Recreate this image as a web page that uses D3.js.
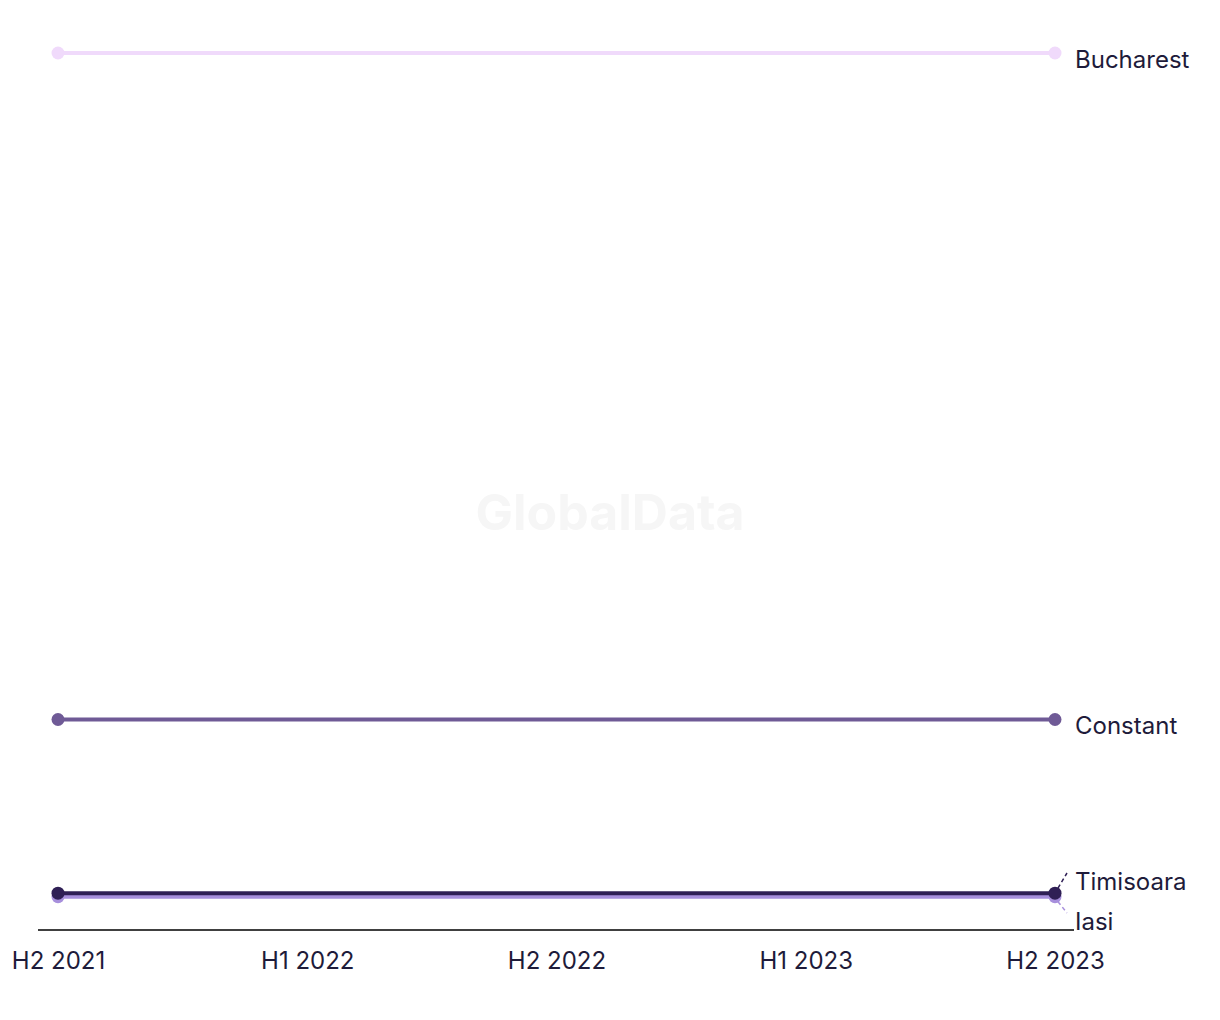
<!DOCTYPE html>
<html><head><meta charset="utf-8">
<script src="https://cdn.jsdelivr.net/npm/d3@7"></script>
<style>body{margin:0;background:#fff;} svg{display:block;font-family:Inter,"Noto Sans",sans-serif;}</style>
</head><body><svg id="c" width="1220" height="1020"></svg>
<script>
const periods = ["H2 2021","H1 2022","H2 2022","H1 2023","H2 2023"];
const seriesNames = ["Bucharest","Constant","Iasi","Timisoara"];
const seriesColors = ["#f0dafb","#6f5a96","#a78fdc","#2f1f55"];
const bucharest = [100, 100];
const constant = [24, 24];
const iasi = [3.8, 3.8];
const timisoara = [4.2, 4.2];
const seriesX = ["H2 2021","H2 2023"];
const seriesValues = [bucharest, constant, iasi, timisoara];
const labelY = [null, null, 921, 881];

const svg = d3.select("#c");
const x = d3.scalePoint().domain(periods).range([58, 1055]);
const y = d3.scaleLinear().domain([0, 100]).range([930, 53]);
const FS = 24;

svg.append("text").attr("x",610).attr("y",512).attr("text-anchor","middle").attr("dominant-baseline","central")
  .attr("font-size",50).attr("font-weight",700).attr("fill","#f6f6f6").text("GlobalData");

const g = svg.append("g");
seriesValues.forEach((vals,i)=>{
  const pts = vals.map((v,j)=>[x(seriesX[j]), y(v)]);
  g.append("path").attr("d", d3.line()(pts)).attr("stroke",seriesColors[i]).attr("stroke-width",4).attr("fill","none");
  g.selectAll(null).data(pts).enter().append("circle").attr("cx",d=>d[0]).attr("cy",d=>d[1]).attr("r",6.5).attr("fill",seriesColors[i]);
});
seriesValues.forEach((vals,i)=>{
  const px = x(seriesX[1]), py = y(vals[1]);
  if (labelY[i]!==null){
    const ty = labelY[i];
    const down = ty > py;
    g.append("line").attr("x1",px+3).attr("y1",py+(down?5:-5)).attr("x2",1067).attr("y2",ty-8)
      .attr("stroke",seriesColors[i]).attr("stroke-width",1.5).attr("stroke-dasharray","4,3");
    g.append("text").attr("x",1075).attr("y",ty).attr("dominant-baseline","central").attr("font-size",FS).attr("fill","#1e1b3a").text(seriesNames[i]);
  } else {
    g.append("text").attr("x",1075).attr("y",py+6).attr("dominant-baseline","central").attr("font-size",FS).attr("fill","#1e1b3a").text(seriesNames[i]);
  }
});

const ax = svg.append("g").attr("transform","translate(0,930)");
ax.append("line").attr("x1",38).attr("x2",1074).attr("stroke","#000").attr("stroke-width",1.5);
ax.call(d3.axisBottom(x).tickSize(0).tickPadding(22)).call(a=>a.select(".domain").remove())
  .selectAll("text").attr("font-size",FS).attr("fill","#1e1b3a").attr("font-family","Inter,'Noto Sans',sans-serif");
</script></body></html>
